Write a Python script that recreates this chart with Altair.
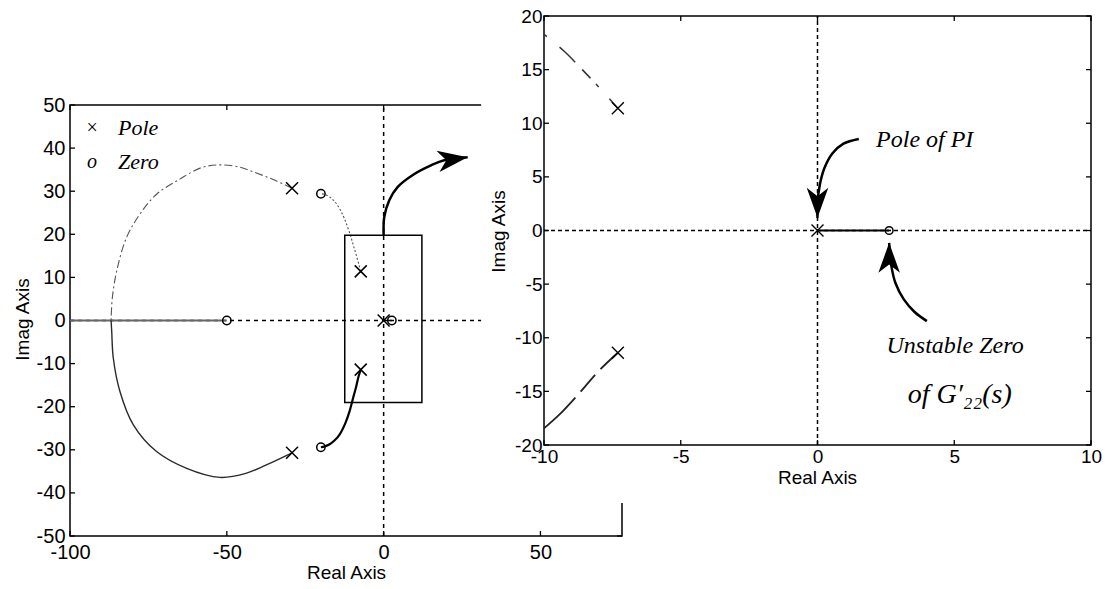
import altair as alt
import pandas as pd

SANS = "Liberation Sans"
SERIF = "Liberation Serif"

# ---------------- values ----------------
# main plot limits / ticks
L_XLIM = [-100, 76]
L_YLIM = [-50, 50]
L_XTICKS = [-100, -50, 0, 50]
L_YTICKS = [-50, -40, -30, -20, -10, 0, 10, 20, 30, 40, 50]
# zoomed inset limits / ticks
R_XLIM = [-10, 10]
R_YLIM = [-20, 20]
R_XTICKS = [-10, -5, 0, 5, 10]
R_YTICKS = [-20, -15, -10, -5, 0, 5, 10, 15, 20]

# poles (x) and zeros (o)
POLE_RE = [-29.2, -29.2, -7.3, -7.3, 0.0]
POLE_IM = [30.7, -30.7, 11.4, -11.4, 0.0]
ZERO_RE = [-20.0, -20.0, -50.0, 2.62]
ZERO_IM = [29.4, -29.4, 0.0, 0.0]

# big loci branches
ARC_UP_RE = [-29.2, -35.2, -41.6, -46.0, -52.2, -58.0, -65.0, -72.4, -77.7, -82.0, -85.1, -86.5, -86.9]
ARC_UP_IM = [30.7, 32.7, 34.5, 35.6, 36.1, 35.5, 32.8, 29.3, 24.7, 19.2, 11.5, 5.3, 0.0]
ARC_LO_RE = [-29.2, -37.4, -43.7, -52.2, -62.8, -72.4, -79.8, -84.1, -86.2, -86.7, -86.9]
ARC_LO_IM = [-30.7, -33.5, -35.4, -36.4, -34.3, -30.4, -24.2, -16.4, -8.7, -2.5, 0.0]
# real-axis loci
REAL_RE = [-100.0, -50.0]
REAL_IM = [0.0, 0.0]
PI_RE = [0.0, 2.62]
PI_IM = [0.0, 0.0]
# small branches (pole -> complex zero)
BR_UP_RE = [-7.3, -8.0, -8.7, -9.4, -10.0, -10.6, -11.5, -12.6, -14.0, -15.6, -17.3, -19.0, -20.0]
BR_UP_IM = [11.4, 13.3, 15.1, 16.8, 18.3, 19.8, 21.7, 23.8, 25.9, 27.6, 28.7, 29.3, 29.4]
BR_LO_RE = [-7.3, -8.0, -8.8, -9.6, -10.8, -12.2, -14.0, -15.6, -17.2, -18.8, -20.0]
BR_LO_IM = [-11.4, -13.0, -15.5, -17.6, -20.9, -23.8, -26.4, -27.8, -28.7, -29.2, -29.4]
# the same branches as seen inside the inset (traced from the left edge)
IN_UP_RE = [-10.0, -9.3, -8.6, -7.9, -7.3]
IN_UP_IM = [18.3, 16.8, 15.0, 13.1, 11.4]
IN_LO_RE = [-10.0, -9.45, -8.86, -7.96, -7.3]
IN_LO_IM = [-18.45, -17.2, -15.6, -13.0, -11.4]

# zoom box drawn on the main plot
BOX_RE = [-12.4, 12.2]
BOX_IM = [-19.0, 19.8]

# legend
LEGEND_SYM = ["\u00d7", "o"]
LEGEND_TXT = ["Pole", "Zero"]
LEGEND_SYM_RE = [-93.0, -93.0]
LEGEND_TXT_RE = [-84.7, -84.7]
LEGEND_IM = [44.7, 36.8]

# annotation arrows (shaft points, last point = tip)
ARR_MAIN_RE = [0.0, 0.2, 1.8, 4.5, 9.8, 15.1, 19.3, 26.8]
ARR_MAIN_IM = [19.8, 24.0, 27.9, 31.0, 34.0, 36.0, 37.2, 37.9]
ARR_PI_RE = [1.51, 0.95, 0.55, 0.25, 0.08, 0.0, 0.0]
ARR_PI_IM = [8.54, 8.1, 7.2, 5.8, 4.2, 2.5, 1.18]
ARR_Z_RE = [4.0, 3.55, 3.15, 2.85, 2.7, 2.64, 2.62]
ARR_Z_IM = [-8.45, -7.6, -6.4, -4.9, -3.3, -1.9, -1.15]

# annotation texts in the inset
ANN_TXT = ["Pole of PI", "Unstable Zero", "of G\u2032\u2082\u2082(s)"]
ANN_RE = [3.92, 5.03, 5.2]
ANN_IM = [8.48, -10.78, -15.3]

# white backing of the inset pasted over the main plot (inset data units)
INSET_BG_RE = [-12.3, 10.8]
INSET_BG_IM = [-25.4, 21.4]

# ---------------- layout (chart pixel coordinates) ----------------
W, H = 1097, 573
L_XR = [62, 614]
L_YR = [528, 97]
R_XR = [536, 1083]
R_YR = [437, 8]
TICK_LEN = 5

CROSS = "M-1,-1L1,1M1,-1L-1,1"
HEAD = "M0,0L0.36,1L0,0.72L-0.36,1Z"


def scale(lim, rng):
    return alt.Scale(domain=lim, range=rng, nice=False, zero=False)


LXS, LYS = scale(L_XLIM, L_XR), scale(L_YLIM, L_YR)
RXS, RYS = scale(R_XLIM, R_XR), scale(R_YLIM, R_YR)


def label_axis(orient, offset, values, fs, pad, title, tx, ty, z):
    return alt.Axis(
        orient=orient, offset=offset, values=values,
        labelExpr="toString(datum.value)", labelFont=SANS, labelFontSize=fs,
        labelColor="black", labelPadding=pad, labelFlush=False, labelOverlap=False,
        ticks=False, tickSize=0, domain=False, grid=False,
        title=title, titleFont=SANS, titleFontSize=19, titleFontWeight="normal",
        titleColor="black", titleX=tx, titleY=ty,
        titleAngle=270 if orient == "left" else 0,
        titleAlign="center", titleBaseline="middle", zindex=z)


def line(re, im, xs, ys, **style):
    df = pd.DataFrame({"re": re, "im": im, "i": list(range(len(re)))})
    return alt.Chart(df).mark_line(**style).encode(
        x=alt.X("re:Q", scale=xs, axis=None),
        y=alt.Y("im:Q", scale=ys, axis=None),
        order="i:Q")


def points(re, im, xs, ys, **style):
    df = pd.DataFrame({"re": re, "im": im})
    return alt.Chart(df).mark_point(**style).encode(
        x=alt.X("re:Q", scale=xs, axis=None),
        y=alt.Y("im:Q", scale=ys, axis=None))


def texts(re, im, txt, xs, ys, **style):
    df = pd.DataFrame({"re": re, "im": im, "t": txt})
    return alt.Chart(df).mark_text(**style).encode(
        x=alt.X("re:Q", scale=xs, axis=None),
        y=alt.Y("im:Q", scale=ys, axis=None),
        text="t:N")


def rect(xlim, ylim, xs, ys, xaxis, yaxis, **style):
    df = pd.DataFrame({"x0": [xlim[0]], "x1": [xlim[1]], "y0": [ylim[0]], "y1": [ylim[1]]})
    return alt.Chart(df).mark_rect(**style).encode(
        x=alt.X("x0:Q", scale=xs, axis=xaxis), x2="x1:Q",
        y=alt.Y("y0:Q", scale=ys, axis=yaxis), y2="y1:Q")


def zero_lines(xlim, ylim, xs, ys, dash):
    v = alt.Chart(pd.DataFrame({"x": [0.0], "y0": [ylim[0]], "y1": [ylim[1]]})).mark_rule(
        color="black", strokeWidth=1.5, strokeDash=dash).encode(
        x=alt.X("x:Q", scale=xs, axis=None),
        y=alt.Y("y0:Q", scale=ys, axis=None), y2="y1:Q")
    h = alt.Chart(pd.DataFrame({"y": [0.0], "x0": [xlim[0]], "x1": [xlim[1]]})).mark_rule(
        color="black", strokeWidth=1.5, strokeDash=dash).encode(
        y=alt.Y("y:Q", scale=ys, axis=None),
        x=alt.X("x0:Q", scale=xs, axis=None), x2="x1:Q")
    return [v, h]


def inward_ticks(xlim, ylim, xt, yt, xs, ys):
    """MATLAB-style ticks pointing into the plot on all four sides."""
    out = []
    for edge, off in ((ylim[0], -TICK_LEN), (ylim[1], TICK_LEN)):
        df = pd.DataFrame({"t": xt, "e": [edge] * len(xt)})
        out.append(alt.Chart(df).mark_rule(color="black", strokeWidth=1.3, y2Offset=off).encode(
            x=alt.X("t:Q", scale=xs, axis=None),
            y=alt.Y("e:Q", scale=ys, axis=None), y2="e:Q"))
    for edge, off in ((xlim[0], TICK_LEN), (xlim[1], -TICK_LEN)):
        df = pd.DataFrame({"t": yt, "e": [edge] * len(yt)})
        out.append(alt.Chart(df).mark_rule(color="black", strokeWidth=1.3, x2Offset=off).encode(
            y=alt.Y("t:Q", scale=ys, axis=None),
            x=alt.X("e:Q", scale=xs, axis=None), x2="e:Q"))
    return out


SMOOTH = "catmull-rom"

# ---------------- main (left) plot ----------------
frameL = rect(L_XLIM, L_YLIM, LXS, LYS,
              label_axis("bottom", L_YR[0] - H, L_XTICKS, 20, 6, "Real Axis", 338, 36, 0),
              label_axis("left", -L_XR[0], L_YTICKS, 20, 5, "Imag Axis", -48, 311, 0),
              fillOpacity=0, stroke="black", strokeWidth=1.5)

left = alt.layer(
    frameL,
    *inward_ticks(L_XLIM, L_YLIM, L_XTICKS, L_YTICKS, LXS, LYS),
    *zero_lines(L_XLIM, L_YLIM, LXS, LYS, [4, 4]),
    line(REAL_RE, REAL_IM, LXS, LYS, color="#666666", strokeWidth=1.8),
    line(ARC_UP_RE, ARC_UP_IM, LXS, LYS, color="#555555", strokeWidth=1.1,
         strokeDash=[8, 3, 2, 3], interpolate=SMOOTH),
    line(ARC_LO_RE, ARC_LO_IM, LXS, LYS, color="#2a2a2a", strokeWidth=1.4, interpolate=SMOOTH),
    line(BR_UP_RE, BR_UP_IM, LXS, LYS, color="#555555", strokeWidth=1.1,
         strokeDash=[2, 2], interpolate=SMOOTH),
    line(BR_LO_RE, BR_LO_IM, LXS, LYS, color="black", strokeWidth=2.2, interpolate=SMOOTH),
    line(PI_RE, PI_IM, LXS, LYS, color="black", strokeWidth=1.5),
    rect(BOX_RE, BOX_IM, LXS, LYS, None, None, fillOpacity=0, stroke="black", strokeWidth=1.5),
    points(POLE_RE, POLE_IM, LXS, LYS, shape=CROSS, size=144, filled=False,
           color="black", strokeWidth=1.5, opacity=1),
    points(ZERO_RE, ZERO_IM, LXS, LYS, shape="circle", size=70, filled=False,
           color="black", strokeWidth=1.5, opacity=1),
    texts(LEGEND_SYM_RE, LEGEND_IM, LEGEND_SYM, LXS, LYS, font=SERIF, fontStyle="italic",
          fontSize=20, color="black", align="center", baseline="middle"),
    texts(LEGEND_TXT_RE, LEGEND_IM, LEGEND_TXT, LXS, LYS, font=SERIF, fontStyle="italic",
          fontSize=22, color="black", align="left", baseline="middle"),
    line(ARR_MAIN_RE, ARR_MAIN_IM, LXS, LYS, color="black", strokeWidth=2.5, interpolate=SMOOTH),
    points(ARR_MAIN_RE[-1:], ARR_MAIN_IM[-1:], LXS, LYS, shape=HEAD, size=3600, filled=True,
           color="black", angle=82, opacity=1),
).resolve_axis(x="independent", y="independent")

# ---------------- inset (right) plot ----------------
def inside(re, im):
    keep = [(R_XLIM[0] <= a <= R_XLIM[1]) and (R_YLIM[0] <= b <= R_YLIM[1]) for a, b in zip(re, im)]
    return [a for a, k in zip(re, keep) if k], [b for b, k in zip(im, keep) if k]


pr, pi_ = inside(POLE_RE, POLE_IM)
zr, zi = inside(ZERO_RE, ZERO_IM)

frameR = rect(R_XLIM, R_YLIM, RXS, RYS,
              label_axis("bottom", R_YR[0] - H, R_XTICKS, 19, 2, "Real Axis", 809, 32, 1),
              label_axis("left", -R_XR[0], R_YTICKS, 19, 2, "Imag Axis", -46, 223, 1),
              fillOpacity=0, stroke="black", strokeWidth=1.5)

right = alt.layer(
    rect(INSET_BG_RE, INSET_BG_IM, RXS, RYS, None, None, fill="white", strokeWidth=0),
    frameR,
    *inward_ticks(R_XLIM, R_YLIM, R_XTICKS, R_YTICKS, RXS, RYS),
    *zero_lines(R_XLIM, R_YLIM, RXS, RYS, [4, 3]),
    line(IN_UP_RE, IN_UP_IM, RXS, RYS, color="#333333", strokeWidth=1.5,
         strokeDash=[4, 16, 22, 10, 12, 8], interpolate=SMOOTH),
    line(IN_LO_RE, IN_LO_IM, RXS, RYS, color="#222222", strokeWidth=1.8,
         strokeDash=[44, 8, 22, 8, 30, 4], interpolate=SMOOTH),
    line(PI_RE, PI_IM, RXS, RYS, color="black", strokeWidth=2),
    points(pr, pi_, RXS, RYS, shape=CROSS, size=144, filled=False,
           color="black", strokeWidth=1.4, opacity=1),
    points(zr, zi, RXS, RYS, shape="circle", size=60, filled=False,
           color="black", strokeWidth=1.5, opacity=1),
    line(ARR_PI_RE, ARR_PI_IM, RXS, RYS, color="black", strokeWidth=2.5, interpolate=SMOOTH),
    points(ARR_PI_RE[-1:], ARR_PI_IM[-1:], RXS, RYS, shape=HEAD, size=3600, filled=True,
           color="black", angle=180, opacity=1),
    line(ARR_Z_RE, ARR_Z_IM, RXS, RYS, color="black", strokeWidth=2.5, interpolate=SMOOTH),
    points(ARR_Z_RE[-1:], ARR_Z_IM[-1:], RXS, RYS, shape=HEAD, size=3600, filled=True,
           color="black", angle=0, opacity=1),
    texts(ANN_RE[:2], ANN_IM[:2], ANN_TXT[:2], RXS, RYS, font=SERIF, fontStyle="italic",
          fontSize=24, color="black", align="center", baseline="middle"),
    texts(ANN_RE[2:], ANN_IM[2:], ANN_TXT[2:], RXS, RYS, font=SERIF, fontStyle="italic",
          fontSize=28, color="black", align="center", baseline="middle"),
).resolve_axis(x="independent", y="independent")

chart = alt.layer(left, right).resolve_scale(x="independent", y="independent").properties(
    width=W, height=H, padding=0, autosize=alt.AutoSizeParams(type="none")
).configure_view(strokeWidth=0)

chart.save("out.html", embed_options={"renderer": "svg", "actions": False})
